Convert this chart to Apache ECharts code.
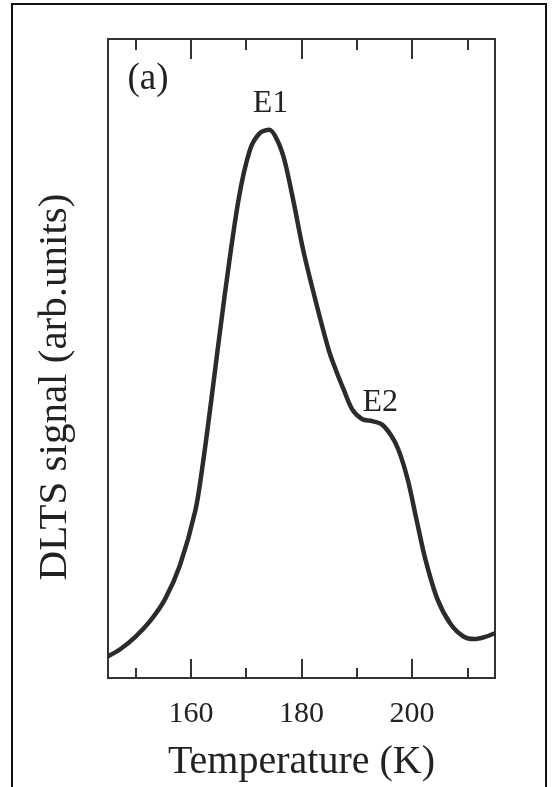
<!DOCTYPE html>
<html>
<head>
<meta charset="utf-8">
<script src="https://cdn.jsdelivr.net/npm/echarts@6/dist/echarts.min.js"></script>
<style>
  html, body { margin: 0; padding: 0; background: #fff; }
  #chart { width: 554px; height: 787px; }
</style>
</head>
<body>
<div id="chart"></div>
<script>
// DLTS spectrum: temperature (K) against signal (arbitrary units)
const temperature = [145.0, 147.2, 149.9, 152.6, 155.3, 158.0, 160.8, 162.2, 163.7, 166.0, 168.6, 170.7, 172.5, 174.2, 175.6, 176.9, 178.5, 180.3, 182.5, 184.9, 186.3, 187.6, 189.2, 191.0, 192.8, 194.5, 196.1, 197.5, 199.2, 200.8, 202.4, 204.6, 207.0, 209.3, 211.3, 213.1, 215.0];
const signal      = [3.4, 4.5, 6.4, 8.9, 12.3, 17.6, 26.2, 33.8, 43.6, 59.2, 74.8, 82.7, 85.3, 85.8, 84.2, 81.1, 74.8, 67.0, 59.2, 51.4, 48.0, 45.2, 42.0, 40.5, 40.2, 39.7, 38.1, 35.8, 31.1, 24.8, 18.6, 12.3, 8.4, 6.5, 6.1, 6.4, 7.0];

const majorTicks = [160, 180, 200];
const minorTicks = [150, 170, 190, 210];
const peakLabels = ['E1', 'E2'];

const serif = '"Liberation Serif", "DejaVu Serif", serif';
const ink = '#333';

const chart = echarts.init(document.getElementById('chart'), null, { renderer: 'canvas' });

function tickAxis(position, values, length, showLabels) {
  return {
    type: 'value',
    position: position,
    min: 145,
    max: 215,
    axisLine: { show: false },
    splitLine: { show: false },
    axisTick: {
      show: true,
      inside: true,
      length: length,
      customValues: values,
      lineStyle: { color: ink, width: 2 }
    },
    axisLabel: {
      show: showLabels,
      customValues: values,
      margin: 21,
      color: '#222',
      fontFamily: serif,
      fontSize: 30
    }
  };
}

chart.setOption({
  animation: false,
  backgroundColor: '#fff',
  grid: {
    left: 108, right: 59, top: 39, bottom: 108,
    show: true,
    borderColor: ink,
    borderWidth: 2,
    backgroundColor: 'transparent'
  },
  xAxis: [
    Object.assign(tickAxis('bottom', majorTicks, 19, true), {
      name: 'Temperature (K)',
      nameLocation: 'middle',
      nameGap: 64,
      nameTextStyle: { fontFamily: serif, fontSize: 40, color: '#222' }
    }),
    tickAxis('bottom', minorTicks, 10, false),
    tickAxis('top', majorTicks, 20, false),
    tickAxis('top', minorTicks, 11, false)
  ],
  yAxis: {
    type: 'value',
    min: 0,
    max: 100,
    axisLine: { show: false },
    axisTick: { show: false },
    axisLabel: { show: false },
    splitLine: { show: false }
  },
  series: [{
    type: 'line',
    xAxisIndex: 0,
    data: temperature.map((t, i) => [t, signal[i]]),
    smooth: 0.3,
    showSymbol: false,
    lineStyle: { color: '#2b2b2b', width: 4.5 },
    markPoint: {
      symbol: 'rect',
      symbolSize: 1,
      itemStyle: { color: 'transparent' },
      label: {
        show: true,
        color: '#222',
        fontFamily: serif,
        fontSize: 32,
        formatter: p => p.name
      },
      data: [
        { name: peakLabels[0], coord: [174.2, 85.8], label: { offset: [1, -26] } },
        { name: peakLabels[1], coord: [192.8, 40.2], label: { offset: [8, -19] } }
      ]
    }
  }],
  graphic: [
    {
      type: 'rect',
      shape: { x: 12, y: 4, width: 534, height: 800 },
      style: { fill: 'none', stroke: '#111', lineWidth: 2 },
      silent: true
    },
    {
      type: 'text',
      x: 148,
      y: 79,
      style: { text: '(a)', font: '37px ' + serif, fill: '#222', align: 'center', verticalAlign: 'middle' }
    },
    {
      type: 'text',
      x: 55,
      y: 387,
      rotation: Math.PI / 2,
      style: { text: 'DLTS signal (arb.units)', font: '41px ' + serif, fill: '#222', align: 'center', verticalAlign: 'middle' }
    }
  ]
});
</script>
</body>
</html>
